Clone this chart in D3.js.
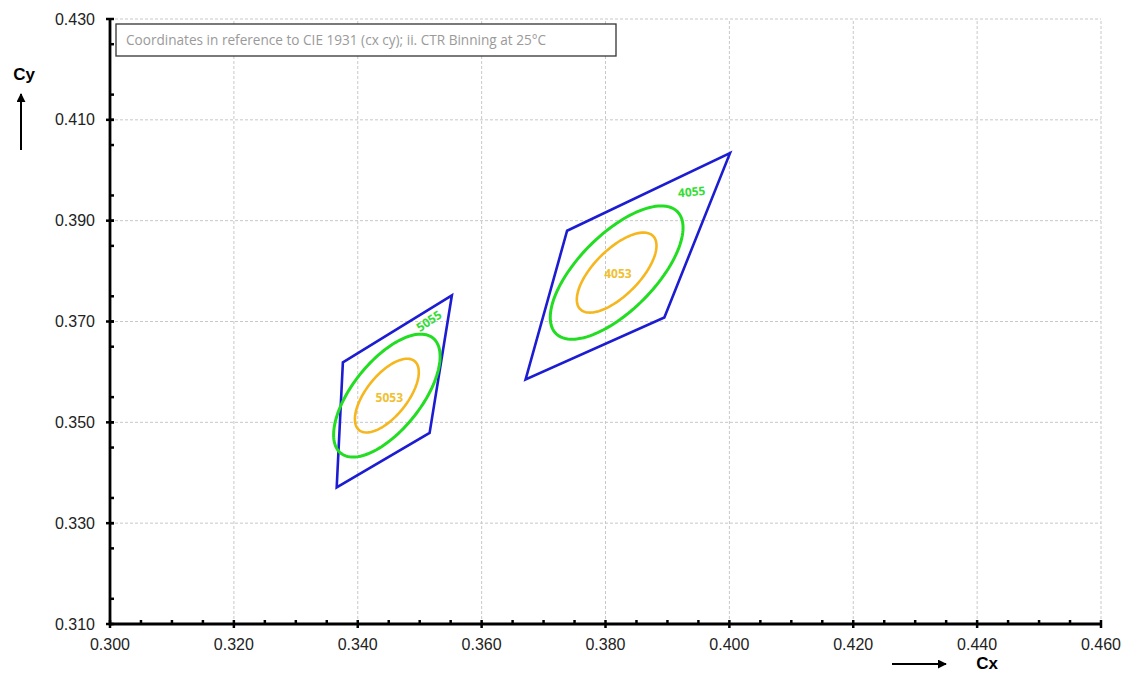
<!DOCTYPE html>
<html lang="en">
<head>
<meta charset="UTF-8">
<title>CIE 1931 binning</title>
<script src="https://d3js.org/d3.v7.min.js"></script>
<style>
    body { margin: 0; background: #fff; }
    svg { display: block; font-family: "Liberation Sans", Arial, sans-serif; }
    .grid line { stroke: #c8c8c8; stroke-dasharray: 3,2; stroke-width: 1; }
    .axis path, .axis line { stroke: #000; }
</style>
</head>
<body>
<svg></svg>
<script>
    // axis ticks
    const xTicks = [0.300, 0.320, 0.340, 0.360, 0.380, 0.400, 0.420, 0.440, 0.460];
    const yTicks = [0.310, 0.330, 0.350, 0.370, 0.390, 0.410, 0.430];

    // quadrangles (cx, cy)
    const quad5000 = [[0.3376, 0.3619], [0.3552, 0.3752], [0.3516, 0.3479], [0.3366, 0.3371]];
    const quad4000 = [[0.3738, 0.3880], [0.4001, 0.4034], [0.3895, 0.3708], [0.3671, 0.3585]];

    // MacAdam ellipses: centre, 1-step semi axes a/b, angle (deg), step count
    const ellipses = [
        { name: "5055", cx: 0.3447, cy: 0.3553, a: 0.00274, b: 0.00118, theta: 59.62, steps: 5, color: "#22dd22" },
        { name: "5053", cx: 0.3447, cy: 0.3553, a: 0.00274, b: 0.00118, theta: 59.62, steps: 3, color: "#f5b61e" },
        { name: "4055", cx: 0.3818, cy: 0.3797, a: 0.00313, b: 0.00134, theta: 53.72, steps: 5, color: "#22dd22" },
        { name: "4053", cx: 0.3818, cy: 0.3797, a: 0.00313, b: 0.00134, theta: 53.72, steps: 3, color: "#f5b61e" }
    ];

    // label positions in data coords
    const labels = [
        { text: "5055", x: 0.3515, y: 0.3701, rot: -34, color: "#33dd33" },
        { text: "5053", x: 0.3451, y: 0.3548, rot: 0, color: "#f0c030" },
        { text: "4055", x: 0.3939, y: 0.3957, rot: -5, color: "#33dd33" },
        { text: "4053", x: 0.3820, y: 0.3795, rot: 0, color: "#f0c030" }
    ];

    const width = 1125, height = 673;
    const margin = { left: 110, right: 24, top: 19, bottom: 49 };

    const svg = d3.select("svg").attr("width", width).attr("height", height);

    const x = d3.scaleLinear().domain([0.300, 0.460]).range([margin.left, width - margin.right]);
    const y = d3.scaleLinear().domain([0.310, 0.430]).range([height - margin.bottom, margin.top]);

    // grid
    svg.append("g").attr("class", "grid")
        .selectAll("line").data(xTicks.slice(1)).join("line")
        .attr("x1", d => x(d)).attr("x2", d => x(d))
        .attr("y1", y(0.310)).attr("y2", y(0.430));
    svg.append("g").attr("class", "grid")
        .selectAll("line").data(yTicks.slice(1)).join("line")
        .attr("x1", x(0.300)).attr("x2", x(0.460))
        .attr("y1", d => y(d)).attr("y2", d => y(d));

    // legend box
    svg.append("rect")
        .attr("x", 116).attr("y", 24).attr("width", 500).attr("height", 32)
        .attr("fill", "#fff").attr("stroke", "#333").attr("stroke-width", 1.3);
    svg.append("text")
        .attr("x", 126).attr("y", 45)
        .attr("font-family", "'Open Sans', 'Noto Sans', sans-serif")
        .attr("font-size", 13.6).attr("fill", "#9a9a9a")
        .text("Coordinates in reference to CIE 1931 (cx cy); ii. CTR Binning at 25°C");

    // quadrangles
    const line = d3.line().x(d => x(d[0])).y(d => y(d[1])).curve(d3.curveLinearClosed);
    svg.selectAll(".quad").data([quad5000, quad4000]).join("path")
        .attr("class", "quad")
        .attr("d", line)
        .attr("fill", "none").attr("stroke", "#1c1cd2").attr("stroke-width", 2.6)
        .attr("stroke-linejoin", "miter");

    // ellipses (traced in data space)
    function ellipsePts(e) {
        const t = e.theta * Math.PI / 180, A = e.a * e.steps, B = e.b * e.steps;
        return d3.range(0, 361, 3).map(deg => {
            const s = deg * Math.PI / 180;
            return [e.cx + A * Math.cos(s) * Math.cos(t) - B * Math.sin(s) * Math.sin(t),
                    e.cy + A * Math.cos(s) * Math.sin(t) + B * Math.sin(s) * Math.cos(t)];
        });
    }
    svg.selectAll(".ell").data(ellipses).join("path")
        .attr("class", "ell")
        .attr("d", d => line(ellipsePts(d)))
        .attr("fill", "none").attr("stroke", d => d.color)
        .attr("stroke-width", d => d.steps === 5 ? 3 : 2.6);

    svg.selectAll(".lbl").data(labels).join("text")
        .attr("class", "lbl")
        .attr("transform", d => `translate(${x(d.x)},${y(d.y)}) rotate(${d.rot})`)
        .attr("text-anchor", "middle").attr("dy", "0.35em")
        .attr("font-family", "'Open Sans', 'Noto Sans', sans-serif")
        .attr("font-size", 12).attr("font-weight", "bold")
        .attr("fill", d => d.color)
        .text(d => d.text);

    // axes
    const xMinor = d3.range(0.305, 0.460, 0.005).filter(v => Math.abs(v * 50 - Math.round(v * 50)) > 0.01);
    const yMinor = d3.range(0.315, 0.430, 0.005).filter(v => Math.abs(v * 50 - Math.round(v * 50)) > 0.01);

    const gx = svg.append("g").attr("class", "axis");
    gx.selectAll(".maj").data(xTicks).join("line")
        .attr("x1", d => x(d)).attr("x2", d => x(d))
        .attr("y1", y(0.310) - 4).attr("y2", y(0.310) + 4).attr("stroke-width", 2.5);
    gx.selectAll(".min").data(xMinor).join("line")
        .attr("x1", d => x(d)).attr("x2", d => x(d))
        .attr("y1", y(0.310) - 4).attr("y2", y(0.310)).attr("stroke-width", 2.5);
    gx.selectAll("text").data(xTicks).join("text")
        .attr("x", d => x(d)).attr("y", y(0.310) + 26)
        .attr("text-anchor", "middle").attr("font-size", 16).attr("fill", "#222")
        .text(d3.format(".3f"));

    const gy = svg.append("g").attr("class", "axis");
    gy.selectAll(".maj").data(yTicks).join("line")
        .attr("x1", x(0.300) - 4).attr("x2", x(0.300) + 4)
        .attr("y1", d => y(d)).attr("y2", d => y(d)).attr("stroke-width", 2.5);
    gy.selectAll(".min").data(yMinor).join("line")
        .attr("x1", x(0.300)).attr("x2", x(0.300) + 4)
        .attr("y1", d => y(d)).attr("y2", d => y(d)).attr("stroke-width", 2.5);
    gy.selectAll("text").data(yTicks).join("text")
        .attr("x", x(0.300) - 15).attr("y", d => y(d)).attr("dy", "0.35em")
        .attr("text-anchor", "end").attr("font-size", 16).attr("fill", "#222")
        .text(d3.format(".3f"));

    svg.append("line")
        .attr("x1", x(0.300)).attr("x2", x(0.460) + 1)
        .attr("y1", y(0.310)).attr("y2", y(0.310))
        .attr("stroke", "#000").attr("stroke-width", 2.8);
    svg.append("line")
        .attr("x1", x(0.300)).attr("x2", x(0.300))
        .attr("y1", y(0.310) + 1.4).attr("y2", y(0.430) - 1)
        .attr("stroke", "#000").attr("stroke-width", 2.8);

    // axis titles with arrows
    const defs = svg.append("defs");
    defs.append("marker").attr("id", "arr")
        .attr("viewBox", "0 0 10 10").attr("refX", 9).attr("refY", 5)
        .attr("markerWidth", 4.5).attr("markerHeight", 4.5).attr("orient", "auto")
        .append("path").attr("d", "M0,0L10,5L0,10z").attr("fill", "#000");

    svg.append("text").attr("x", 24).attr("y", 80)
        .attr("text-anchor", "middle").attr("font-size", 17).attr("font-weight", "bold")
        .text("Cy");
    svg.append("line").attr("x1", 21).attr("x2", 21).attr("y1", 150).attr("y2", 94)
        .attr("stroke", "#000").attr("stroke-width", 2).attr("marker-end", "url(#arr)");

    svg.append("text").attr("x", 987).attr("y", 669)
        .attr("text-anchor", "middle").attr("font-size", 17).attr("font-weight", "bold")
        .text("Cx");
    svg.append("line").attr("x1", 892).attr("x2", 946).attr("y1", 664).attr("y2", 664)
        .attr("stroke", "#000").attr("stroke-width", 2).attr("marker-end", "url(#arr)");
</script>
</body>
</html>
